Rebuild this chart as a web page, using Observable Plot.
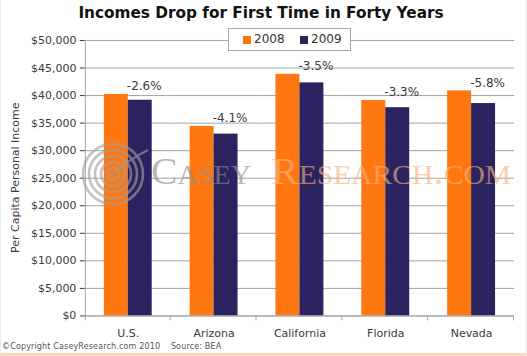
<!DOCTYPE html>
<html>
<head>
<meta charset="utf-8">
<script src="https://cdn.jsdelivr.net/npm/d3@7"></script>
<script src="https://cdn.jsdelivr.net/npm/@observablehq/plot@0.6"></script>
<style>
  html, body { margin: 0; padding: 0; background: #fff; }
  #wrap { position: relative; width: 527px; height: 356px; overflow: hidden; background: #fff;
          font-family: "DejaVu Sans", Verdana, sans-serif; box-sizing: border-box;
          border-left: 1px solid #eeeeee; border-right: 1px solid #e6e6e6; border-bottom: 3px solid #fbd8b8; }
  #title { position: absolute; left: 0; top: 0; width: 520px; height: 26px; line-height: 27px;
           text-align: center; font-weight: bold; font-size: 15.3px; color: #111; }
  #chart { position: absolute; left: -1px; top: 26px; }
  #legend { position: absolute; left: 227px; top: 28px; width: 123px; height: 23px; box-sizing: border-box;
            border: 1px solid #a8a8a8; background: #fff; font-size: 12px; color: #333; }
  #legend span.sw { position: absolute; top: 7px; width: 8px; height: 8px; }
  #legend span.tx { position: absolute; top: 3px; line-height: 15px; }
  #footer { position: absolute; left: 1px; top: 342px; font-size: 8px; color: #555; letter-spacing: 0.15px; white-space: pre; }
  #overlay { position: absolute; left: -1px; top: 0; pointer-events: none; }
</style>
</head>
<body>
<div id="wrap">
  <div id="title">Incomes Drop for First Time in Forty Years</div>
  <div id="chart"></div>
  <svg id="overlay" width="527" height="356"></svg>
  <div id="legend"></div>
  <div id="footer"></div>
</div>
<script>
// ---- data ----
const states = ["U.S.", "Arizona", "California", "Florida", "Nevada"];
const years = ["2008", "2009"];
const income2008 = [40200, 34400, 43850, 39100, 40850];
const income2009 = [39150, 33000, 42300, 37800, 38550];
const changeLabels = ["-2.6%", "-4.1%", "-3.5%", "-3.3%", "-5.8%"];
const yTicks = [0, 5000, 10000, 15000, 20000, 25000, 30000, 35000, 40000, 45000, 50000];
const titleText = "Incomes Drop for First Time in Forty Years";
const yLabel = "Per Capita Personal Income";
const footerText = "\u00A9Copyright CaseyResearch.com 2010    Source: BEA";

const colors = ["#ff7711", "#2a2360"];

// ---- tables ----
const rows = [];
states.forEach((s, i) => {
  rows.push({state: s, year: years[0], value: income2008[i]});
  rows.push({state: s, year: years[1], value: income2009[i]});
});
const labelRows = states.map((s, i) => ({state: s, year: years[1], base: income2008[i], label: changeLabels[i]}));

const fmt = d3.format(",");
const plot = Plot.plot({
  width: 527,
  height: 316,
  marginLeft: 83,
  marginRight: 10,
  marginTop: 14,
  marginBottom: 26,
  style: {fontFamily: "DejaVu Sans, Verdana, sans-serif", fontSize: "11px", color: "#3a3a3a", background: "transparent"},
  fx: {domain: states, padding: 0, label: null, tickSize: 0, tickPadding: 13, axis: "bottom"},
  x: {domain: years, paddingInner: 0, paddingOuter: 0.74, axis: null},
  y: {domain: [0, 50000], ticks: yTicks, tickFormat: d => "$" + fmt(d), label: null, tickSize: 5, tickPadding: 4},
  color: {domain: years, range: colors},
  marks: [
    Plot.ruleY(yTicks, {stroke: "#a3a3a3", strokeWidth: 1}),
    Plot.barY(rows, {fx: "state", x: "year", y: "value", fill: "year"}),
    Plot.text(labelRows, {fx: "state", x: "year", y: "base", text: "label", dy: -8, dx: 4, fontSize: 12, fill: "#3a3a3a"})
  ]
});
document.getElementById("chart").appendChild(plot);

// axis styling and axis lines through library scales
const svg = d3.select(plot);
svg.selectAll('[aria-label="y-axis tick"]').attr("stroke", "#a3a3a3");
const ys = plot.scale("y"), fxs = plot.scale("fx");
const y0 = ys.apply(0), y50 = ys.apply(50000);
const left = fxs.apply(states[0]);
const right = fxs.apply(states[states.length - 1]) + fxs.bandwidth;
const g = svg.append("g").attr("stroke", "#a3a3a3").attr("stroke-width", 1);
g.append("line").attr("x1", left + 0.5).attr("x2", left + 0.5).attr("y1", y50).attr("y2", y0 + 5);
g.append("line").attr("x1", left).attr("x2", right).attr("y1", y0 + 0.5).attr("y2", y0 + 0.5);
states.forEach((s, i) => {
  const xb = fxs.apply(s) + fxs.bandwidth;
  g.append("line").attr("x1", xb - 0.5).attr("x2", xb - 0.5).attr("y1", y0).attr("y2", y0 + 5);
});
svg.append("text")
  .attr("transform", `translate(15,${(y0 + y50) / 2}) rotate(-90)`)
  .attr("text-anchor", "middle").attr("dy", "0.35em")
  .attr("font-size", 11).attr("fill", "#3a3a3a")
  .text(yLabel);

// watermark overlay
const ov = d3.select("#overlay");
const wm = ov.append("g").attr("opacity", 0.62);
[6, 12, 18, 24, 30].forEach(r => {
  wm.append("circle").attr("cx", 113).attr("cy", 174).attr("r", r)
    .attr("fill", "none").attr("stroke", "#a0a0a0").attr("stroke-width", 2.6);
});
wm.append("path").attr("d", "M110,176 Q128,160 148,150").attr("fill", "none").attr("stroke", "#a0a0a0").attr("stroke-width", 2);
wm.append("text").attr("x", 151).attr("y", 184).attr("font-family", "Liberation Serif, serif")
  .attr("font-size", 38).style("font-variant", "small-caps").attr("fill", "#8f8f8f")
  .attr("textLength", 100).attr("lengthAdjust", "spacingAndGlyphs").text("Casey");
wm.append("text").attr("x", 271).attr("y", 184).attr("font-family", "Liberation Serif, serif")
  .attr("font-size", 38).style("font-variant", "small-caps").attr("fill", "#f8b27a")
  .attr("textLength", 240).attr("lengthAdjust", "spacingAndGlyphs").text("Research.com");

// legend
const lg = d3.select("#legend");
years.forEach((yr, i) => {
  lg.append("span").attr("class", "sw").style("left", (14 + i * 57) + "px").style("background", colors[i]);
  lg.append("span").attr("class", "tx").style("left", (25 + i * 57) + "px").text(yr);
});
document.getElementById("title").textContent = titleText;
document.getElementById("footer").textContent = footerText;
</script>
</body>
</html>
